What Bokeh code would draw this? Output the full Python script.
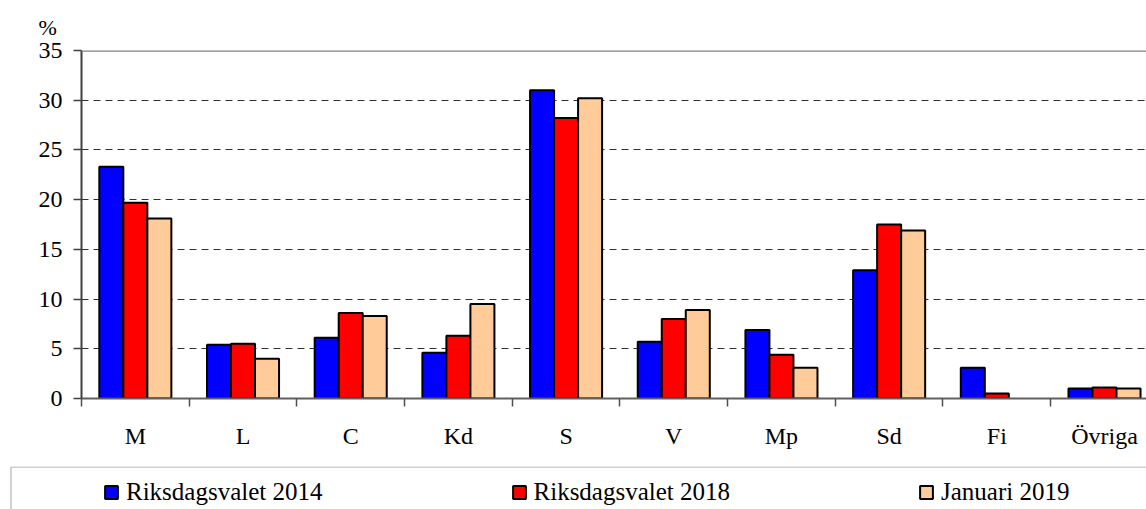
import numpy as np
from bokeh.plotting import figure
from bokeh.layouts import column
from bokeh.models import (ColumnDataSource, FixedTicker, Legend, LegendItem,
                          Span, BoxAnnotation)
from bokeh.embed import file_html
from bokeh.resources import INLINE

# ---- data ----
categories = ["M", "L", "C", "Kd", "S", "V", "Mp", "Sd", "Fi", "Övriga"]
val_2014 = [23.3, 5.4, 6.1, 4.6, 31.0, 5.7, 6.9, 12.9, 3.1, 1.0]
val_2018 = [19.7, 5.5, 8.6, 6.3, 28.2, 8.0, 4.4, 17.5, 0.5, 1.1]
val_2019 = [18.1, 4.0, 8.3, 9.5, 30.2, 8.9, 3.1, 16.9, float("nan"), 1.0]
series_names = ["Riksdagsvalet 2014", "Riksdagsvalet 2018", "Januari 2019"]
series_colors = ["#0000FF", "#FF0000", "#FFCC99"]
y_ticks = [0, 5, 10, 15, 20, 25, 30, 35]

FONT = "Liberation Serif"
W = 1146

p = figure(width=W, height=466, x_range=(0, 9.89), y_range=(0, 35),
           output_backend="svg", toolbar_location=None,
           min_border_left=81, min_border_right=0, min_border_top=50,
           min_border_bottom=68, title="%")
p.frame_align = False
p.outline_line_color = None
p.background_fill_color = "white"
p.border_fill_color = "white"
p.title.text_font = FONT
p.title.text_font_size = "22px"
p.title.text_font_style = "normal"
p.title.text_color = "black"
p.title.align = "left"
p.title.offset = -43
p.title.standoff = 21

n = len(categories)
centers = np.arange(n) + 0.5
bw = 0.223
offsets = [-bw, 0.0, bw]
for vals, col, off in zip([val_2014, val_2018, val_2019], series_colors, offsets):
    src = ColumnDataSource(dict(x=centers + off, top=vals))
    p.vbar(x="x", top="top", width=bw, bottom=0, source=src,
           fill_color=col, line_color="black", line_width=2)

# x axis: labels at centers, tick marks at category boundaries
p.xaxis.ticker = FixedTicker(ticks=list(centers), minor_ticks=list(range(n + 1)))
p.xaxis.major_label_overrides = {float(c): lab for c, lab in zip(centers, categories)}
p.xaxis.major_tick_line_color = None
p.xaxis.major_tick_out = 0
p.xaxis.major_tick_in = 0
p.xaxis.minor_tick_out = 8
p.xaxis.minor_tick_in = 0
p.xaxis.minor_tick_line_color = "#505050"
p.xaxis.minor_tick_line_width = 1.5
p.xaxis.axis_line_color = "#606060"
p.xaxis.axis_line_width = 2
p.xaxis.major_label_standoff = 16
p.xaxis.major_label_text_font = FONT
p.xaxis.major_label_text_font_size = "24px"
p.xaxis.major_label_text_color = "black"

# y axis
p.yaxis.ticker = FixedTicker(ticks=y_ticks)
p.yaxis.minor_tick_line_color = None
p.yaxis.major_tick_out = 8
p.yaxis.major_tick_in = 0
p.yaxis.major_tick_line_color = "#404040"
p.yaxis.major_tick_line_width = 1.5
p.yaxis.axis_line_color = "#404040"
p.yaxis.axis_line_width = 2
p.yaxis.major_label_standoff = 11
p.yaxis.major_label_text_font = FONT
p.yaxis.major_label_text_font_size = "24px"
p.yaxis.major_label_text_color = "black"

p.xgrid.grid_line_color = None
p.ygrid.ticker = FixedTicker(ticks=y_ticks[1:-1])
p.ygrid.grid_line_color = "#303030"
p.ygrid.grid_line_dash = "7 5"
p.ygrid.grid_line_width = 1.2

p.add_layout(Span(location=35, dimension="width", line_color="#808080", line_width=2.5))

# ---- legend strip ----
LH = 43
q = figure(width=W, height=LH, x_range=(0, W), y_range=(0, LH),
           output_backend="svg", toolbar_location=None,
           min_border_left=0, min_border_right=0, min_border_top=0,
           min_border_bottom=0)
q.frame_align = False
q.axis.visible = False
q.grid.visible = False
q.outline_line_color = None
q.border_fill_color = "white"

q.add_layout(BoxAnnotation(left=10.5, right=5000, top=LH - 0.5, bottom=-5000,
                           fill_alpha=0, fill_color=None,
                           line_color="#333333", line_width=1.5))

items = []
for nm, col in zip(series_names, series_colors):
    r = q.vbar(x=[0], top=[float("nan")], width=1, fill_color=col,
               line_color="black", line_width=2)
    items.append(LegendItem(label=nm, renderers=[r]))

legend = Legend(items=items, location=(103, 3), orientation="horizontal",
                padding=0, margin=0, spacing=188, label_standoff=7,
                glyph_width=16, glyph_height=16,
                label_text_font=FONT, label_text_font_size="25px",
                label_text_color="black",
                border_line_color=None, background_fill_alpha=0)
q.add_layout(legend, "center")

layout = column(p, q, spacing=0)
open("out.html", "w").write(file_html(layout, INLINE))
